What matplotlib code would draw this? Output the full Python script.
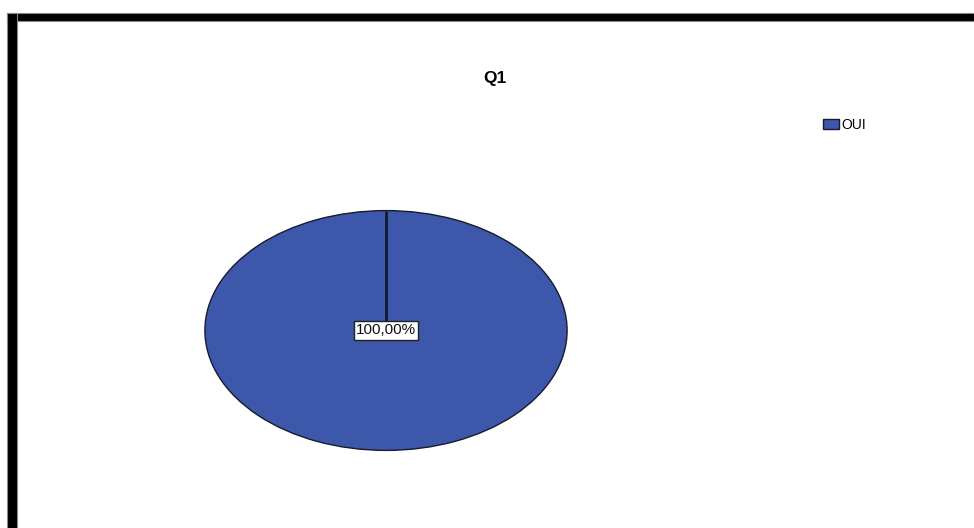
import matplotlib
matplotlib.use("Agg")
import matplotlib.pyplot as plt
from matplotlib.patches import Rectangle

categories = ["OUI"]
values = [100.0]
title = "Q1"
colors = ["#3d57aa"]

W, H = 974, 528
fig = plt.figure(figsize=(W / 100, H / 100), dpi=100)
fig.patch.set_facecolor("white")

def fx(px):
    return px / W

def fy(py):
    return 1 - py / H

# frame bars (top and left)
fig.patches.append(Rectangle((fx(7), fy(21)), fx(974) - fx(7), fy(13) - fy(21),
                             transform=fig.transFigure, facecolor="black",
                             edgecolor="#888888", linewidth=0.8, zorder=5))
fig.patches.append(Rectangle((fx(7), fy(530)), fx(17) - fx(7), fy(13) - fy(530),
                             transform=fig.transFigure, facecolor="black",
                             edgecolor="#888888", linewidth=0.8, zorder=5))

# pie axes sized to elliptical pie bounding box
ax = fig.add_axes([fx(204), fy(451), fx(568) - fx(204), fy(210) - fy(451)])
wedges, _ = ax.pie(values, colors=colors, startangle=90, counterclock=False,
                   radius=1.0,
                   wedgeprops=dict(edgecolor="#1a1a2e", linewidth=1.0))
ax.set_aspect("auto")
ax.set_xlim(-1.005, 1.005)
ax.set_ylim(-1.005, 1.005)
ax.axis("off")
# boundary line of the single full slice at start angle
ax.plot([0, 0], [0, 1], color="#111a33", linewidth=2.0, solid_capstyle="butt")

ax.text(0, 0, f"{values[0]:.2f}".replace(".", ",") + "%", ha="center", va="center",
        fontsize=11, family="Liberation Sans", color="#111111",
        bbox=dict(boxstyle="square,pad=0.15", facecolor="white",
                  edgecolor="#222222", linewidth=1.0))

fig.text(fx(495), fy(78), title, ha="center", va="center", fontsize=12.5,
         fontweight="bold", family="Liberation Sans")

leg = fig.legend(wedges, categories, loc="center left",
                 bbox_to_anchor=(fx(823), fy(125)), frameon=False,
                 prop=dict(family="Liberation Sans", size=10),
                 handlelength=1.15, handleheight=0.75, handletextpad=0.2,
                 borderpad=0, borderaxespad=0)

fig.savefig("out.png", dpi=100, facecolor="white")
